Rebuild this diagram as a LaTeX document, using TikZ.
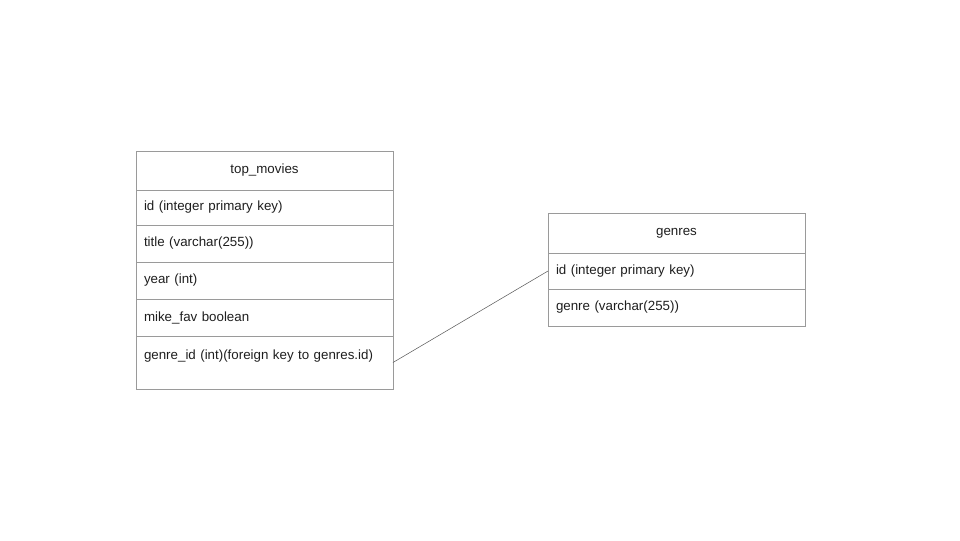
\documentclass[tikz,border=0pt]{standalone}
\usepackage{fontspec}
\setmainfont{Liberation Sans}
\usetikzlibrary{positioning}
\definecolor{boxgray}{HTML}{9A9A9A}
\definecolor{linkgray}{HTML}{5C5C5C}
\definecolor{inkgray}{HTML}{1E1E1E}

\tikzset{
	tblhead/.style={draw=boxgray, minimum width=192.75pt, inner sep=0pt, outer sep=0pt, text=inkgray, font=\fontsize{10}{12}\selectfont},
	tblrow/.style={draw=boxgray, text width=180.75pt, inner xsep=6pt, inner ysep=0pt, outer sep=0pt, align=left, text=inkgray, font=\fontsize{10}{12}\selectfont},
}

\begin{document}
\begin{tikzpicture}
		\useasboundingbox (0,0) rectangle (720pt,-405pt);
		% top_movies table
		\node[tblhead, anchor=north west, minimum height=29.25pt] (tm0) at (102pt,-113.25pt) {top\_movies};
		\node[tblrow, minimum height=26.25pt, below=0pt of tm0] (tm1) {id (integer primary key)};
		\node[tblrow, minimum height=27.75pt, below=0pt of tm1] (tm2) {title (varchar(255))};
		\node[tblrow, minimum height=27.75pt, below=0pt of tm2] (tm3) {year (int)};
		\node[tblrow, minimum height=27.75pt, below=0pt of tm3] (tm4) {mike\_fav boolean};
		\node[tblrow, minimum height=39.75pt, below=0pt of tm4] (tm5) {genre\_id (int)(foreign key to genres.id)\\ \mbox{}};
		% genres table
		\node[tblhead, anchor=north west, minimum height=30pt] (gn0) at (411pt,-159.75pt) {genres};
		\node[tblrow, minimum height=27pt, below=0pt of gn0] (gn1) {id (integer primary key)};
		\node[tblrow, minimum height=27.75pt, below=0pt of gn1] (gn2) {genre (varchar(255))};
		% link
		\draw[linkgray] (tm5.east) -- (gn1.west);
		\end{tikzpicture}
\end{document}
